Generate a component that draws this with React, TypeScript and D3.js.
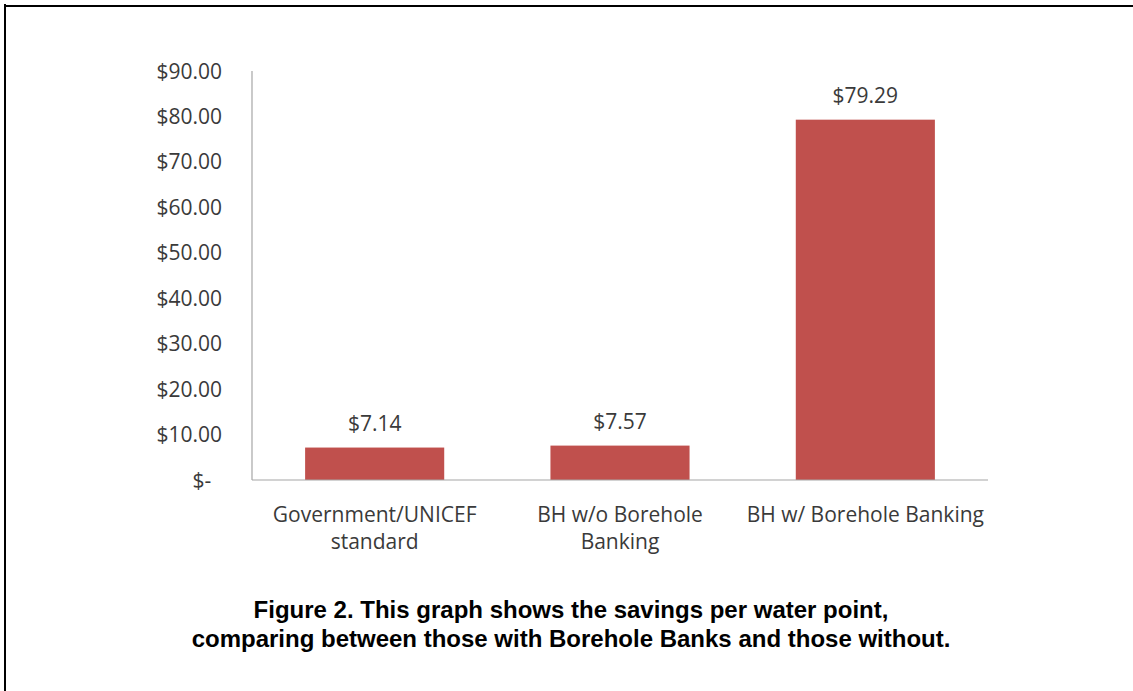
import React from "react";
import * as d3 from "d3";

// Savings per water point, by management model
const categories: string[][] = [
  ["Government/UNICEF", "standard"],
  ["BH w/o Borehole", "Banking"],
  ["BH w/ Borehole Banking"],
];
const savings: number[] = [7.14, 7.57, 79.29];
const tickValues: number[] = [0, 10, 20, 30, 40, 50, 60, 70, 80, 90];
const captionLines: string[] = [
  "Figure 2. This graph shows the savings per water point,",
  "comparing between those with Borehole Banks and those without.",
];

const W = 1133;
const H = 691;
const plot = { left: 252, right: 988, top: 71, bottom: 480 };
const barColor = "#C0504D";
const textColor = "#3a3a3a";
const axisColor = "#A6A6A6";
const labelFont = "'Open Sans', 'Noto Sans', sans-serif";
const labelSize = 21;

const fmtTick = (v: number) => (v === 0 ? "$-" : "$" + d3.format(".2f")(v));
const fmtValue = (v: number) => "$" + d3.format(".2f")(v);

export default function App() {
  const keys = categories.map((c) => c.join(" "));
  const x = d3.scaleBand<string>().domain(keys).range([plot.left, plot.right]).padding(0);
  const y = d3.scaleLinear().domain([0, 90]).range([plot.bottom, plot.top]);
  const barW = x.bandwidth() * 0.567;

  return (
    <svg
      width={W}
      height={H}
      style={{ position: "absolute", left: 0, top: 0, background: "#fff" }}
    >
      {/* frame */}
      <line x1={5} y1={4} x2={5} y2={H} stroke="#000" strokeWidth={2} />
      <line x1={4} y1={6} x2={W} y2={6} stroke="#000" strokeWidth={2} />

      {/* y tick labels */}
      {tickValues.map((t) => (
        <text
          key={t}
          x={t === 0 ? 202 : 222}
          y={y(t)}
          dy="0.36em"
          textAnchor={t === 0 ? "middle" : "end"}
          fontFamily={labelFont}
          fontSize={labelSize}
          fill={textColor}
        >
          {fmtTick(t)}
        </text>
      ))}

      {/* bars */}
      {savings.map((v, i) => {
        const cx = (x(keys[i]) as number) + x.bandwidth() / 2;
        return (
          <g key={keys[i]}>
            <rect
              x={cx - barW / 2}
              y={y(v)}
              width={barW}
              height={y(0) - y(v)}
              fill={barColor}
            />
            <text
              x={cx}
              y={y(v) - 17}
              textAnchor="middle"
              fontFamily={labelFont}
              fontSize={labelSize}
              fill={textColor}
            >
              {fmtValue(v)}
            </text>
          </g>
        );
      })}

      {/* axes */}
      <line x1={plot.left} y1={plot.top} x2={plot.left} y2={plot.bottom} stroke={axisColor} strokeWidth={1.2} />
      <line x1={plot.left} y1={plot.bottom} x2={plot.right} y2={plot.bottom} stroke={axisColor} strokeWidth={1.2} />

      {/* category labels, one text per line */}
      {categories.map((lines, i) => {
        const cx = (x(keys[i]) as number) + x.bandwidth() / 2;
        return lines.map((ln, j) => (
          <text
            key={keys[i] + j}
            x={cx}
            y={522 + j * 27}
            textAnchor="middle"
            fontFamily={labelFont}
            fontSize={labelSize}
            fill={textColor}
          >
            {ln}
          </text>
        ));
      })}

      {/* caption */}
      {captionLines.map((ln, j) => (
        <text
          key={j}
          x={571}
          y={618 + j * 29}
          textAnchor="middle"
          fontFamily="'Liberation Sans', Arial, sans-serif"
          fontWeight="bold"
          fontSize={24}
          fill="#000"
        >
          {ln}
        </text>
      ))}
    </svg>
  );
}
